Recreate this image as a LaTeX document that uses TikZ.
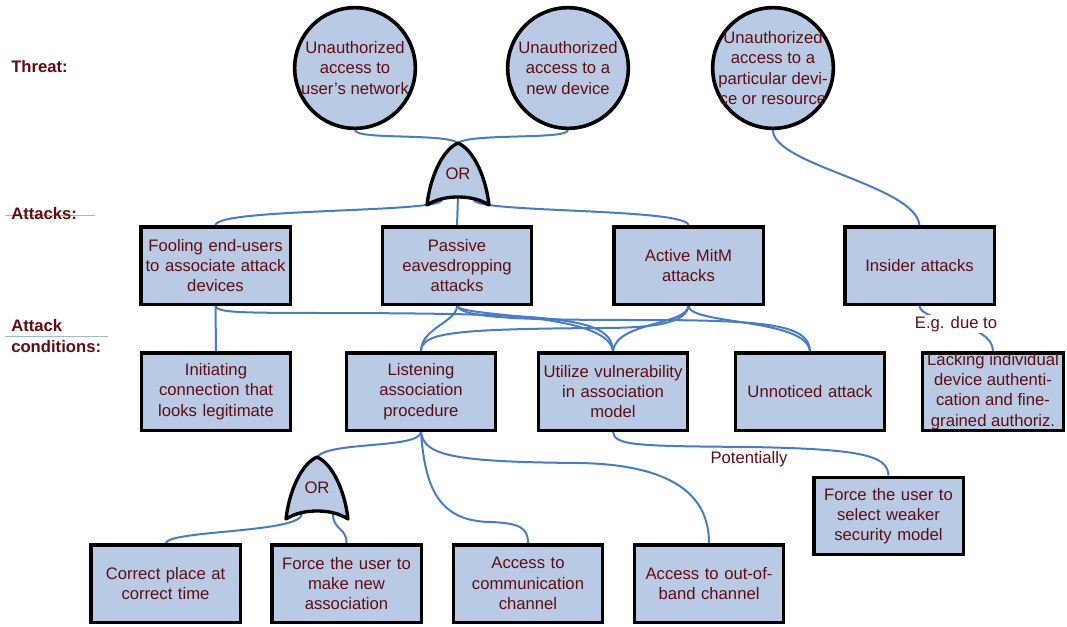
\documentclass[tikz,border=0pt]{standalone}
\usepackage{fontspec}
\setmainfont{Liberation Sans}
\usetikzlibrary{backgrounds}
\definecolor{fillblue}{RGB}{185,203,228}
\definecolor{linkblue}{RGB}{74,124,196}
\definecolor{txtred}{RGB}{94,14,18}
\definecolor{ruleblue}{RGB}{160,184,220}
\begin{document}
\begin{tikzpicture}[x=0.75pt,y=-0.75pt,
  lbl/.style={font=\fontsize{12.5}{15.2}\selectfont\bfseries, text=txtred, anchor=west, align=left, inner sep=0pt},
  txt/.style={font=\fontsize{12.5}{15.2}\selectfont, text=txtred, align=center, inner sep=0pt},
  box/.style={txt, draw=black, line width=2.5pt, fill=fillblue, minimum width=112pt, minimum height=58pt, text width=110pt, inner sep=1pt},
  threat/.style={circle, draw=black, line width=2.7pt, fill=fillblue, minimum size=90.5pt, inner sep=0pt},
  gatefill/.style={draw=black, line width=2.5pt, fill=fillblue, line join=round},
  link/.style={draw=linkblue, line width=1.5pt},
  elbl/.style={txt, fill=white, inner sep=1pt},
  rule/.style={draw=ruleblue, line width=0.6pt}
]
\useasboundingbox (0,0) rectangle (1067,626);

% left labels
\coordinate (r1a) at (5,215); \coordinate (r1b) at (95,215);
\coordinate (r2a) at (5,336); \coordinate (r2b) at (108,336);
\draw[rule] (r1a) -- (r1b);
\draw[rule] (r2a) -- (r2b);
\node[lbl] (lt) at (11,67) {Threat:};
\node[lbl] (la) at (11,214) {Attacks:};
\node[lbl] (lc) at (11,336) {Attack\\conditions:};

% threats
\node[threat] (t1) at (355,68) {};
\node[txt] (t1txt) at (t1) {Unauthorized\\access to\\user's network};
\node[threat] (t2) at (568,68) {};
\node[txt] (t2txt) at (t2) {Unauthorized\\access to a\\new device};
\node[threat] (t3) at (773,68) {};
\node[txt] (t3txt) at (t3) {Unauthorized\\access to a\\particular devi-\\ce or resource};

% gate 1
\begin{scope}[shift={(458,174)}]
  \path[gatefill] (0,-31) .. controls (-16,-24) and (-28,4) .. (-31,31)
     .. controls (-20,24) and (-8,23) .. (0,23)
     .. controls (8,23) and (20,24) .. (31,31)
     .. controls (28,4) and (16,-24) .. cycle;
  \node[txt] (g1) at (0,0) {OR};
  \coordinate (g1top) at (0,-31);
  \coordinate (g1bl) at (-16,26);
  \coordinate (g1bc) at (0,23);
  \coordinate (g1br) at (16,26);
\end{scope}

% gate 2
\begin{scope}[shift={(317,488)}]
  \path[gatefill] (0,-31) .. controls (-16,-24) and (-28,4) .. (-31,31)
     .. controls (-20,24) and (-8,23) .. (0,23)
     .. controls (8,23) and (20,24) .. (31,31)
     .. controls (28,4) and (16,-24) .. cycle;
  \node[txt] (g2) at (0,0) {OR};
  \coordinate (g2top) at (0,-31);
  \coordinate (g2bl) at (-15,26);
  \coordinate (g2br) at (16,26);
\end{scope}

% attacks
\node[box] (a1) at (215.5,265.5) {Fooling end-users\\to associate attack\\devices};
\node[box] (a2) at (457,265.5) {Passive\\eavesdropping\\attacks};
\node[box] (a3) at (688.5,265.5) {Active MitM\\attacks};
\node[box] (a4) at (919.5,265.5) {Insider attacks};

% conditions
\node[box] (b1) at (216,391.5) {Initiating\\connection that\\looks legitimate};
\node[box] (b2) at (421,391.5) {Listening\\association\\procedure};
\node[box] (b3) at (613,391.5) {Utilize vulnerability\\in association\\model};
\node[box] (b4) at (810,391.5) {Unnoticed attack};
\node[box, minimum width=106pt, text width=104pt] (b5) at (993,391.5) {};
\node[txt] (b5txt) at (b5) {Lacking individual\\device authenti-\\cation and fine-\\grained authoriz.};

\node[box] (c5) at (888.5,516) {Force the user to\\select weaker\\security model};

% bottom row
\node[box] (d1) at (165.5,583.5) {Correct place at\\correct time};
\node[box] (d2) at (346.5,583.5) {Force the user to\\make new\\association};
\node[box] (d3) at (528,583.5) {Access to\\communication\\channel};
\node[box] (d4) at (709,583.5) {Access to out-of-\\band channel};

\begin{pgfonlayer}{background}
\draw[link] (t1.south) .. controls (356,140) and (445,133) .. (g1top);
\draw[link] (t2.south) .. controls (567,140) and (470,133) .. (g1top);
\draw[link] (t3.south) .. controls (773,165) and (915,185) .. (a4.north);
\draw[link] (g1bl) .. controls (440,213) and (217,208) .. (a1.north);
\draw[link] (g1bc) -- (a2.north);
\draw[link] (g1br) .. controls (476,213) and (686,208) .. (a3.north);

\draw[link] (a1.south) -- (b1.north);
\draw[link] (a1.south) .. controls (217,313) and (240,313) .. (350,313) .. controls (560,314) and (612,318) .. (b3.north);
\draw[link] (a2.south) .. controls (457,322) and (421,328) .. (b2.north);
\draw[link] (a2.south) .. controls (462,318) and (608,312) .. (b3.north);
\draw[link] (a2.south) .. controls (462,318) and (520,320) .. (640,320) .. controls (770,320) and (809,325) .. (b4.north);
\draw[link] (a3.south) .. controls (686,322) and (660,328) .. (600,328) .. controls (450,329) and (422,333) .. (b2.north);
\draw[link] (a3.south) .. controls (687,325) and (616,322) .. (b3.north);
\draw[link] (a3.south) .. controls (690,325) and (806,318) .. (b4.north);
\draw[link] (a4.south) .. controls (920,322) and (993,322) .. (b5.north);

\draw[link] (b2.south) .. controls (420,449) and (330,441) .. (g2top);
\draw[link] (b2.south) .. controls (425,490) and (440,521) .. (490,522) .. controls (520,523) and (528,528) .. (d3.north);
\draw[link] (b2.south) .. controls (424,455) and (450,462) .. (580,463) .. controls (680,465) and (709,500) .. (d4.north);
\draw[link] (g2bl) .. controls (300,533) and (170,530) .. (d1.north);
\draw[link] (g2br) .. controls (333,530) and (347,528) .. (d2.north);
\draw[link] (b3.south) .. controls (614,446) and (640,446) .. (750,447) .. controls (860,449) and (888,455) .. (c5.north);
\end{pgfonlayer}

\node[elbl] (eg) at (956,324) {E.g. due to};
\node[elbl] (pot) at (749,459) {Potentially};
\end{tikzpicture}
\end{document}
